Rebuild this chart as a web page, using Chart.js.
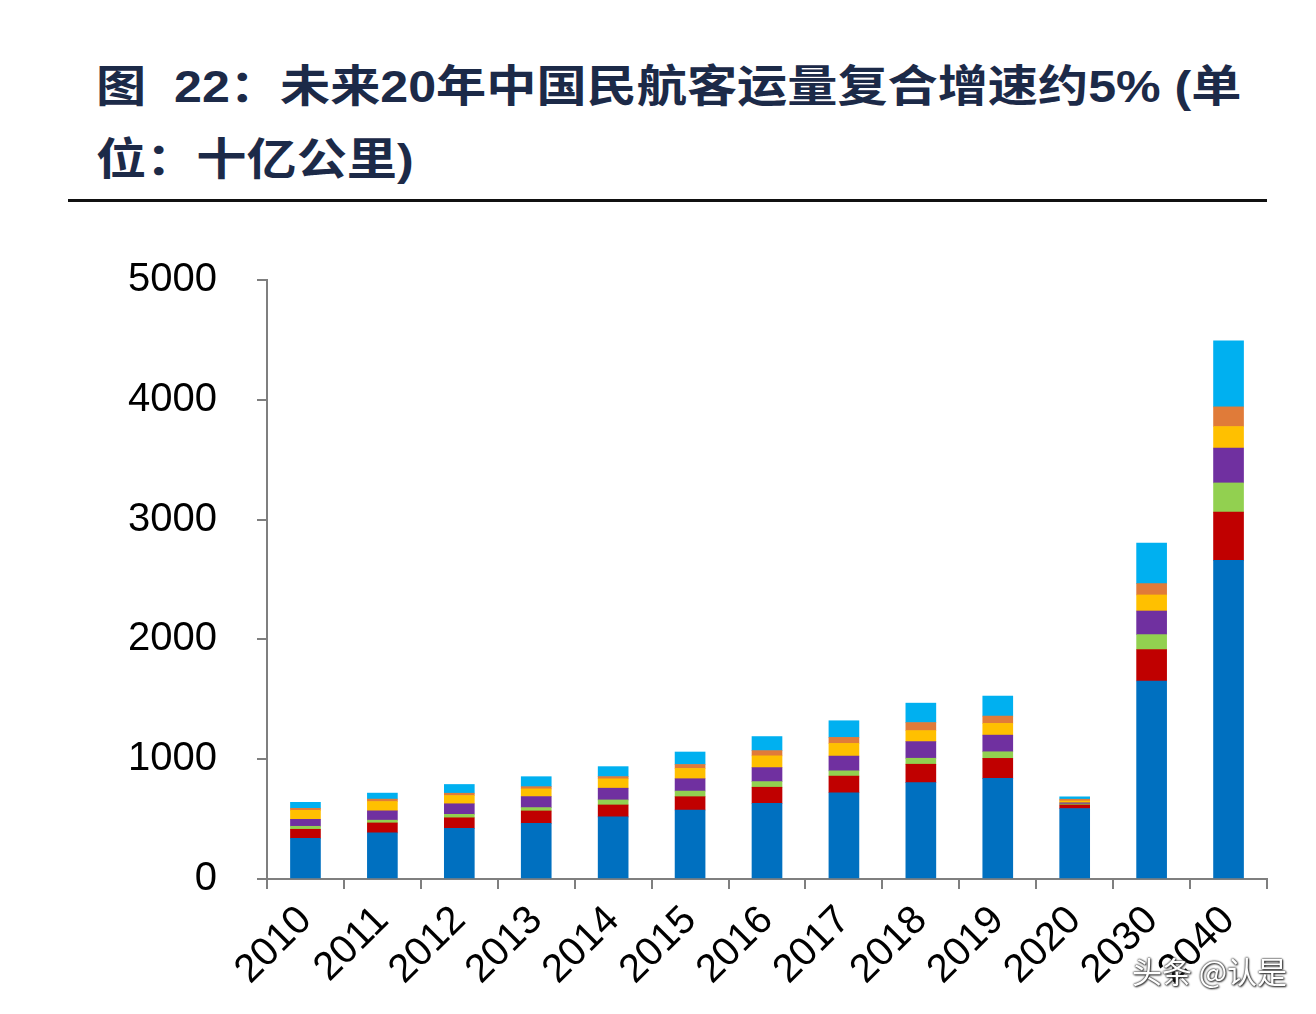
<!DOCTYPE html>
<html>
<head>
<meta charset="utf-8">
<script src="https://cdn.jsdelivr.net/npm/chart.js@4.4.1/dist/chart.umd.min.js"></script>
<style>
    html, body { margin: 0; padding: 0; background: #fff; }
    body { width: 1316px; height: 1014px; position: relative; overflow: hidden; }
    #title {
        position: absolute; left: 96px; top: 50px; width: 1100px;
        font-family: "Liberation Sans", "Noto Sans CJK SC", sans-serif;
        font-weight: bold; font-size: 44px; line-height: 73px; color: #1c2a48;
        transform: scaleX(1.14); transform-origin: left top; white-space: nowrap;
    }
    #rule { position: absolute; left: 68px; top: 199px; width: 1199px; height: 3px; background: #111; }
    #wrap { position: absolute; left: 0; top: 0; width: 1316px; height: 1014px; }
    #mark {
        position: absolute; left: 1132px; top: 948px;
        font-family: "Noto Sans CJK SC", sans-serif; font-size: 30px; color: #fff;
        text-shadow: 0 0 2px #333, 0 0 2px #333, 1px 1px 2px #333;
    }
</style>
</head>
<body>
<div id="title">图&nbsp;&nbsp;22：未来20年中国民航客运量复合增速约5% (单<br>位：十亿公里)</div>
<div id="rule"></div>
<div id="wrap"><canvas id="chart"></canvas></div>
<div id="mark">头条 @认是</div>
<script>
// categories and stacked series (十亿公里)
const years = ["2010", "2011", "2012", "2013", "2014", "2015", "2016", "2017", "2018", "2019", "2020", "2030", "2040"];
const blueSeries   = [340, 385, 423, 465, 518, 576, 632, 720, 804, 840, 588, 1653, 2659];
const redSeries    = [75, 83, 88, 103, 100, 111, 134, 139, 154, 167, 30, 262, 403];
const greenSeries  = [25, 23, 29, 28, 42, 47, 47, 44, 50, 55, 8, 125, 244];
const purpleSeries = [58, 78, 88, 92, 98, 103, 117, 123, 139, 139, 10, 197, 292];
const yellowSeries = [75, 78, 69, 64, 78, 86, 98, 106, 92, 98, 15, 134, 179];
const orangeSeries = [17, 20, 19, 19, 19, 33, 44, 50, 67, 61, 15, 95, 164];
const cyanSeries   = [50, 50, 73, 83, 83, 104, 117, 139, 162, 167, 20, 337, 552];
const yTicks = [0, 1000, 2000, 3000, 4000, 5000];

const axisColor = "#7f7f7f";

function ds(data, color) {
    return {
        data: data,
        backgroundColor: color,
        borderWidth: 0,
        barThickness: 30
    };
}

new Chart(document.getElementById("chart"), {
    type: "bar",
    data: {
        labels: years,
        datasets: [
            ds(blueSeries, "#0070c0"),
            ds(redSeries, "#c00000"),
            ds(greenSeries, "#92d050"),
            ds(purpleSeries, "#7030a0"),
            ds(yellowSeries, "#ffc000"),
            ds(orangeSeries, "#e07b39"),
            ds(cyanSeries, "#00b0f0")
        ]
    },
    options: {
        responsive: true,
        maintainAspectRatio: false,
        animation: false,
        layout: { padding: { left: 0, right: 49, top: 280, bottom: 0 } },
        plugins: { legend: { display: false }, tooltip: { enabled: false } },
        scales: {
            x: {
                stacked: true,
                grid: { drawOnChartArea: false, drawTicks: true, tickLength: 10, color: axisColor, lineWidth: 2, offset: true },
                border: { color: axisColor, width: 2 },
                ticks: {
                    color: "#000", minRotation: 45, maxRotation: 45, padding: 8,
                    font: { family: "Liberation Sans", size: 40 }
                },
                afterFit: (scale) => { scale.height = 135; }
            },
            y: {
                stacked: true,
                min: 0, max: 5000,
                afterBuildTicks: (scale) => { scale.ticks = yTicks.map(v => ({ value: v })); },
                grid: { drawOnChartArea: false, drawTicks: true, tickLength: 10, color: axisColor, lineWidth: 2 },
                border: { color: axisColor, width: 2 },
                ticks: {
                    color: "#000", padding: 40,
                    font: { family: "Liberation Sans", size: 40 },
                    callback: (v) => String(v)
                },
                afterFit: (scale) => { scale.width = 267; }
            }
        }
    }
});
</script>
</body>
</html>
